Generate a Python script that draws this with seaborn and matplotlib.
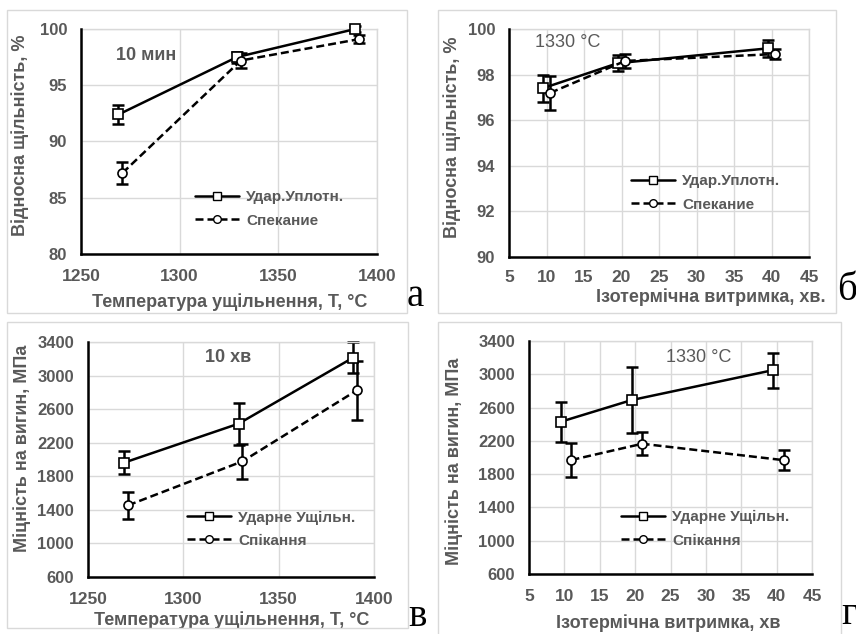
import numpy as np
import pandas as pd
import matplotlib
matplotlib.use("Agg")
import matplotlib.pyplot as plt
import seaborn as sns
from matplotlib.patches import Rectangle
from matplotlib.lines import Line2D

# ---------------- data ----------------
# panel а : relative density vs temperature (10 min)
temp_a_udar = [1269, 1329, 1389]
dens_a_udar = [92.4, 97.5, 100.0]
err_a_udar = [0.85, 0.5, 0.3]
temp_a_spek = [1271, 1331, 1391]
dens_a_spek = [87.2, 97.2, 99.1]
err_a_spek = [0.95, 0.7, 0.35]

# panel б : relative density vs holding time (1330 °C)
time_b_udar = [9.5, 19.5, 39.5]
dens_b_udar = [97.4, 98.5, 99.15]
err_b_udar = [0.6, 0.35, 0.38]
time_b_spek = [10.5, 20.5, 40.5]
dens_b_spek = [97.2, 98.6, 98.9]
err_b_spek = [0.75, 0.3, 0.23]

# panel в : bending strength vs temperature (10 хв)
temp_v_udar = [1269, 1329, 1389]
str_v_udar = [1963, 2427, 3213]
err_v_udar = [137, 250, 185]
temp_v_spek = [1271, 1331, 1391]
str_v_spek = [1454, 1978, 2824]
err_v_spek = [160, 210, 348]

# panel г : bending strength vs holding time (1330 °C)
time_g_udar = [9.5, 19.5, 39.5]
str_g_udar = [2430, 2690, 3050]
err_g_udar = [240, 400, 210]
time_g_spek = [11, 21, 41]
str_g_spek = [1970, 2165, 1968]
err_g_spek = [200, 140, 120]

# ---------------- style ----------------
sns.set_style("white")
plt.rcParams["font.family"] = ["Liberation Sans", "DejaVu Sans"]
GRAY = "#595959"
GRID = "#d9d9d9"

W, H = 856, 634
fig = plt.figure(figsize=(W / 100, H / 100), dpi=100)


def px_axes(x0, x1, y0, y1):
    return fig.add_axes([x0 / W, (H - y1) / H, (x1 - x0) / W, (y1 - y0) / H])


def border(x0, y0, x1, y1):
    fig.patches.append(Rectangle((x0 / W, (H - y1) / H), (x1 - x0) / W, (y1 - y0) / H,
                                 transform=fig.transFigure, fill=False,
                                 edgecolor="#d9d9d9", linewidth=1.0, zorder=0))


def draw_panel(ax, xu, yu, eu, xs, ys, es, labels, xlim, xticks, ylim, yticks,
               xlabel, ylabel, xl_pos, yl_pos, note, note_pos, note_bold, leg_pos,
               xpad=7):
    for xx, yy, ee in ((xu, yu, eu), (xs, ys, es)):
        eb = ax.errorbar(xx, yy, yerr=ee, fmt="none", ecolor="black", elinewidth=1.8,
                         capsize=4.5, capthick=1.8, zorder=2)
        for art in eb.get_children():
            art.set_clip_on(False)
    df_u = pd.DataFrame({"x": xu, "y": yu})
    df_s = pd.DataFrame({"x": xs, "y": ys})
    sns.lineplot(data=df_u, x="x", y="y", ax=ax, color="black", linestyle="-",
                 linewidth=1.8, marker="s", markersize=7, markerfacecolor="white",
                 markeredgecolor="black", markeredgewidth=1.2, errorbar=None,
                 sort=False, zorder=3, clip_on=False)
    sns.lineplot(data=df_s, x="x", y="y", ax=ax, color="black", linestyle=(0, (3.2, 1.6)),
                 linewidth=1.8, marker="o", markersize=6.5, markerfacecolor="white",
                 markeredgecolor="black", markeredgewidth=1.2, errorbar=None,
                 sort=False, zorder=3, clip_on=False)
    ax.set_xlim(*xlim)
    ax.set_ylim(*ylim)
    ax.set_xticks(xticks)
    ax.set_yticks(yticks)
    ax.grid(True, color=GRID, linewidth=1.0)
    ax.set_axisbelow(True)
    for s in ("top", "right"):
        ax.spines[s].set_color(GRID)
        ax.spines[s].set_linewidth(1.0)
    for s in ("left", "bottom"):
        ax.spines[s].set_color("black")
        ax.spines[s].set_linewidth(1.8)
        ax.spines[s].set_zorder(4)
    ax.tick_params(axis="both", direction="out", length=4, width=1.5, color="black",
                   labelcolor=GRAY)
    ax.tick_params(axis="x", labelsize=12.5, pad=xpad)
    ax.tick_params(axis="y", labelsize=12, pad=6)
    for t in ax.get_xticklabels() + ax.get_yticklabels():
        t.set_fontweight("bold")
    ax.set_xlabel(xlabel, fontsize=13, fontweight="bold", color=GRAY, va="center")
    ax.set_ylabel(ylabel, fontsize=13, fontweight="bold", color=GRAY, va="center")
    ax.xaxis.set_label_coords(*xl_pos)
    ax.yaxis.set_label_coords(*yl_pos)
    ax.text(note_pos[0], note_pos[1], note, transform=ax.transAxes, ha="center",
            va="center", fontsize=13, color=GRAY,
            fontweight="bold" if note_bold else "normal")
    handles = [
        Line2D([], [], color="black", linestyle="-", linewidth=1.8, marker="s",
               markersize=6, markerfacecolor="white", markeredgecolor="black"),
        Line2D([], [], color="black", linestyle=(0, (3.2, 1.6)), linewidth=1.8,
               marker="o", markersize=5.5, markerfacecolor="white",
               markeredgecolor="black"),
    ]
    leg = ax.legend(handles, labels, loc="center left", bbox_to_anchor=leg_pos,
                    frameon=False, borderpad=0, borderaxespad=0, handlelength=2.9,
                    handletextpad=0.45, labelspacing=0.6,
                    prop={"family": "Liberation Sans", "weight": "bold", "size": 11})
    for t in leg.get_texts():
        t.set_color(GRAY)


# panel borders
border(7, 10, 407, 313)
border(438, 10, 836, 313)
border(7, 322, 408, 628)
border(438, 322, 841, 640)

leg_ru = ["Удар.Уплотн.", "Спекание"]
leg_ua = ["Ударне Ущільн.", "Спікання"]

ax_a = px_axes(81, 377, 29, 254)
draw_panel(ax_a, temp_a_udar, dens_a_udar, err_a_udar, temp_a_spek, dens_a_spek, err_a_spek,
           leg_ru, (1250, 1400), [1250, 1300, 1350, 1400], (80, 100), [80, 85, 90, 95, 100],
           "Температура ущільнення, Т, °С", "Відносна щільність, %",
           (0.502, -0.213), (-0.205, 0.529), "10 мин", (0.22, 0.884), True, (0.385, 0.2))

ax_b = px_axes(509, 809, 29, 257)
draw_panel(ax_b, time_b_udar, dens_b_udar, err_b_udar, time_b_spek, dens_b_spek, err_b_spek,
           leg_ru, (5, 45), list(range(5, 50, 5)), (90, 100), [90, 92, 94, 96, 98, 100],
           "Ізотермічна витримка, хв.", "Відносна щільність, %",
           (0.673, -0.178), (-0.19, 0.526), "1330 °C", (0.197, 0.939), False, (0.407, 0.281),
           xpad=5)

ax_v = px_axes(88, 374, 342, 577)
draw_panel(ax_v, temp_v_udar, str_v_udar, err_v_udar, temp_v_spek, str_v_spek, err_v_spek,
           leg_ua, (1250, 1400), [1250, 1300, 1350, 1400], (600, 3400),
           list(range(600, 3401, 400)),
           "Температура ущільнення, Т, °С", "Міцність на вигин, МПа",
           (0.503, -0.183), (-0.23, 0.549), "10 хв", (0.49, 0.936), True, (0.346, 0.204))

ax_g = px_axes(529, 812, 341, 574)
draw_panel(ax_g, time_g_udar, str_g_udar, err_g_udar, time_g_spek, str_g_spek, err_g_spek,
           leg_ua, (5, 45), list(range(5, 50, 5)), (600, 3400), list(range(600, 3401, 400)),
           "Ізотермічна витримка, хв", "Міцність на вигин, МПа",
           (0.491, -0.210), (-0.265, 0.485), "1330 °C", (0.60, 0.931), False, (0.325, 0.193))

# panel letters
for x, y, s, va in [(415, 297, "а", "center"), (847, 290, "б", "center"),
                    (417, 617, "в", "center"), (849, 633, "г", "bottom")]:
    fig.text(x / W, (H - y) / H, s, ha="center", va=va,
             fontsize=28, family="Liberation Serif", color="black")

fig.savefig("out.png", dpi=100)
